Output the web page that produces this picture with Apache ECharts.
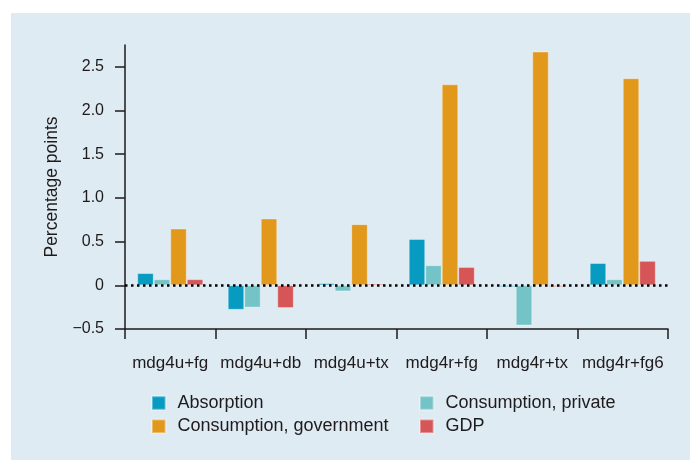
<!DOCTYPE html>
<html>
<head>
<meta charset="utf-8">
<script src="https://cdn.jsdelivr.net/npm/echarts@6/dist/echarts.min.js"></script>
<style>
  html, body { margin: 0; padding: 0; background: #ffffff; }
  #wrap { position: absolute; left: 11px; top: 13px; right: 0; bottom: 0; background: #deebf3; }
  #chart { position: absolute; left: 0; top: 0; width: 690px; height: 460px; }
</style>
</head>
<body>
<div id="wrap"></div>
<div id="chart"></div>
<script>
// Scenario categories
const categories = ['mdg4u+fg', 'mdg4u+db', 'mdg4u+tx', 'mdg4r+fg', 'mdg4r+tx', 'mdg4r+fg6'];

// Deviations from baseline, percentage points
const absorption = [0.14, -0.28, 0.025, 0.53, -0.02, 0.255];
const consPrivate = [0.07, -0.255, -0.07, 0.23, -0.46, 0.07];
const consGovernment = [0.65, 0.765, 0.70, 2.30, 2.675, 2.37];
const gdp = [0.07, -0.26, 0.02, 0.21, -0.02, 0.28];

// Y axis tick values
const yTicks = [-0.5, 0, 0.5, 1.0, 1.5, 2.0, 2.5];

const FONT = '"Liberation Sans", Arial, sans-serif';
const INK = '#1f1b1c';

const chart = echarts.init(document.getElementById('chart'), null, { renderer: 'canvas' });

function barSeries(name, data, color) {
  return {
    name: name,
    type: 'bar',
    data: data,
    barGap: '0%',
    barCategoryGap: '27%',
    itemStyle: { color: color, borderColor: 'rgba(255,255,255,0.35)', borderWidth: 1 },
    emphasis: { disabled: true }
  };
}

const series = [
  barSeries('Absorption', absorption, '#079bc2'),
  barSeries('Consumption, private', consPrivate, '#74c3c6'),
  barSeries('Consumption, government', consGovernment, '#e2981b'),
  barSeries('GDP', gdp, '#d65556'),
  {
    // dotted zero line drawn over the bars
    type: 'line',
    data: [],
    z: 10,
    silent: true,
    markLine: {
      silent: true,
      symbol: ['none', 'none'],
      label: { show: false },
      lineStyle: { color: '#000000', width: 2.5, type: [2.5, 3.5] },
      data: [{ yAxis: 0 }]
    }
  }
];

const legendText = { fontFamily: FONT, fontSize: 18, color: INK, lineHeight: 18, padding: [0, 0, 0, 7] };

chart.setOption({
  animation: false,
  backgroundColor: 'transparent',
  grid: { left: 125, right: 22, top: 45, bottom: 131, containLabel: false },
  legend: [
    {
      data: ['Absorption', 'Consumption, government'],
      orient: 'vertical', left: 146, top: 389,
      itemWidth: 13.5, itemHeight: 13.5, itemGap: 5.3, icon: 'rect',
      textStyle: legendText, selectedMode: false
    },
    {
      data: ['Consumption, private', 'GDP'],
      orient: 'vertical', left: 414, top: 389,
      itemWidth: 13.5, itemHeight: 13.5, itemGap: 5.3, icon: 'rect',
      textStyle: legendText, selectedMode: false
    }
  ],
  xAxis: {
    type: 'category',
    data: categories,
    position: 'bottom',
    axisLine: { onZero: false, lineStyle: { color: INK, width: 1.5 } },
    axisTick: { show: true, length: 10, interval: 0, alignWithLabel: false, lineStyle: { color: INK, width: 1.5 } },
    axisLabel: { fontFamily: FONT, fontSize: 17, color: INK, margin: 26, interval: 0 },
    splitLine: { show: false }
  },
  yAxis: {
    type: 'value',
    min: -0.5,
    max: 2.75,
    interval: 0.5,
    name: 'Percentage points',
    nameLocation: 'middle',
    nameGap: 61,
    nameRotate: 90,
    nameTextStyle: { fontFamily: FONT, fontSize: 17.5, color: INK },
    axisLine: { show: true, lineStyle: { color: INK, width: 1.5 } },
    axisTick: { show: true, length: 10, customValues: yTicks, lineStyle: { color: INK, width: 1.5 } },
    axisLabel: {
      fontFamily: FONT, fontSize: 16, color: INK, margin: 21,
      customValues: yTicks,
      formatter: function (v) {
        if (v === 0) return '0';
        return v.toFixed(1).replace('-', '\u2212');
      }
    },
    splitLine: { show: false }
  },
  series: series
});
</script>
</body>
</html>
